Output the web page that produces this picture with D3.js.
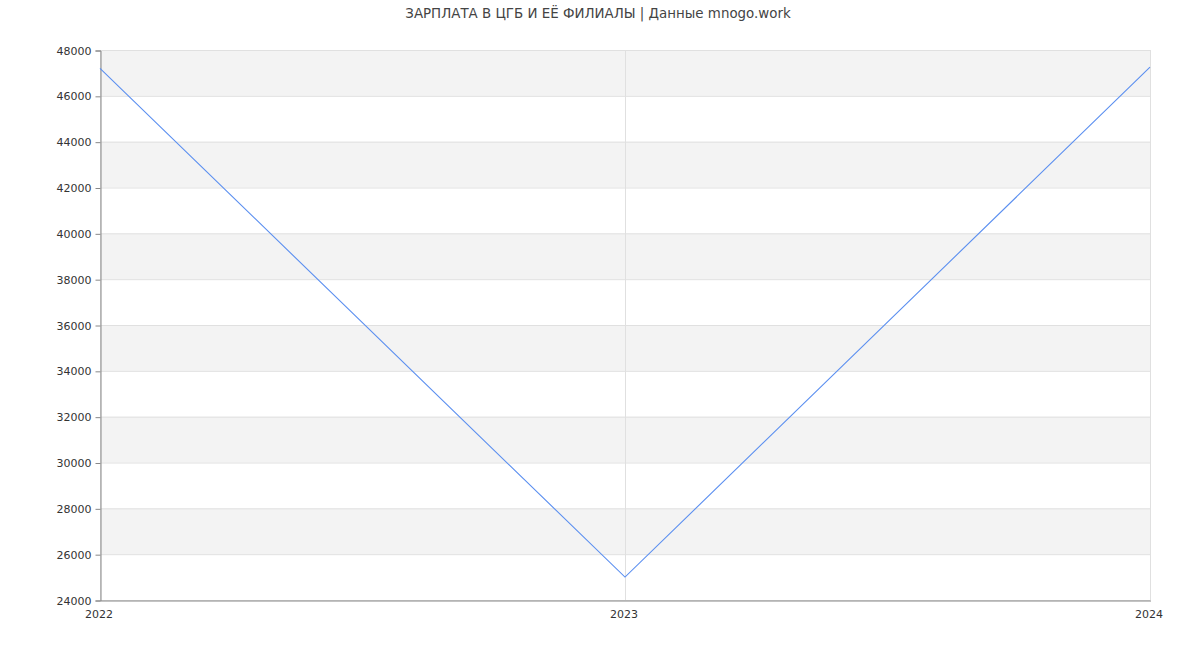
<!DOCTYPE html>
<html><head><meta charset="utf-8">
<script src="https://cdn.jsdelivr.net/npm/d3@7"></script>
<style>body{margin:0;background:#fff;font-family:"DejaVu Sans",sans-serif;}</style>
</head><body><svg id="c" width="1200" height="650"></svg>
<script>
const years = ["2022","2023","2024"];
const salaries = [47200, 25000, 47250];
const yTicks = [24000,26000,28000,30000,32000,34000,36000,38000,40000,42000,44000,46000,48000];
const title = "ЗАРПЛАТА В ЦГБ И ЕЁ ФИЛИАЛЫ | Данные mnogo.work";

const svg = d3.select("#c");
const m = {l:100, r:1150, t:50, b:600};
const x = d3.scalePoint().domain(years).range([m.l, m.r]);
const y = d3.scaleLinear().domain([24000,48000]).range([m.b, m.t]);

// bands
for (let i = 0; i < yTicks.length - 1; i++) {
  if ((yTicks.length - 2 - i) % 2 === 0) {
    svg.append("rect").attr("x", m.l).attr("width", m.r - m.l)
      .attr("y", y(yTicks[i+1])).attr("height", y(yTicks[i]) - y(yTicks[i+1]))
      .attr("fill", "#f3f3f3");
  }
}
// horizontal grid
svg.append("g").selectAll("line").data(yTicks).join("line")
  .attr("x1", m.l).attr("x2", m.r)
  .attr("y1", d => y(d) + 0.5).attr("y2", d => y(d) + 0.5)
  .attr("stroke", "#e0e0e0");
// vertical grid
svg.append("g").selectAll("line").data(years).join("line")
  .attr("x1", d => x(d) + 0.5).attr("x2", d => x(d) + 0.5)
  .attr("y1", m.t).attr("y2", m.b)
  .attr("stroke", "#e0e0e0");

// axes
const ya = svg.append("g").attr("transform", `translate(${m.l + 0.5},0.5)`)
  .call(d3.axisLeft(y).tickValues(yTicks).tickSize(5).tickPadding(4).tickFormat(d3.format("d")));
ya.select(".domain").attr("stroke", "#888");
ya.selectAll(".tick line").attr("stroke", "#888");
ya.selectAll("text").attr("fill", "#333").style("font-size", "11px").style("font-family", "DejaVu Sans");

const xa = svg.append("g").attr("transform", `translate(0.5,${m.b + 0.5})`)
  .call(d3.axisBottom(x).tickSize(0).tickPadding(10));
xa.select(".domain").attr("stroke", "#888");
xa.selectAll("text").attr("fill", "#333").style("font-size", "11px").style("font-family", "DejaVu Sans")
  .attr("dx", "-2");

// line
svg.append("path").datum(salaries.map((v,i)=>({y:years[i], v})))
  .attr("fill", "none").attr("stroke", "#5b8ff0").attr("stroke-width", 1.1)
  .attr("d", d3.line().x(d => x(d.y)).y(d => y(d.v)));

svg.append("text").attr("x", 598).attr("y", 18).attr("text-anchor", "middle")
  .attr("fill", "#444").style("font-size", "13.4px").style("font-family", "DejaVu Sans")
  .text(title);
</script></body></html>
